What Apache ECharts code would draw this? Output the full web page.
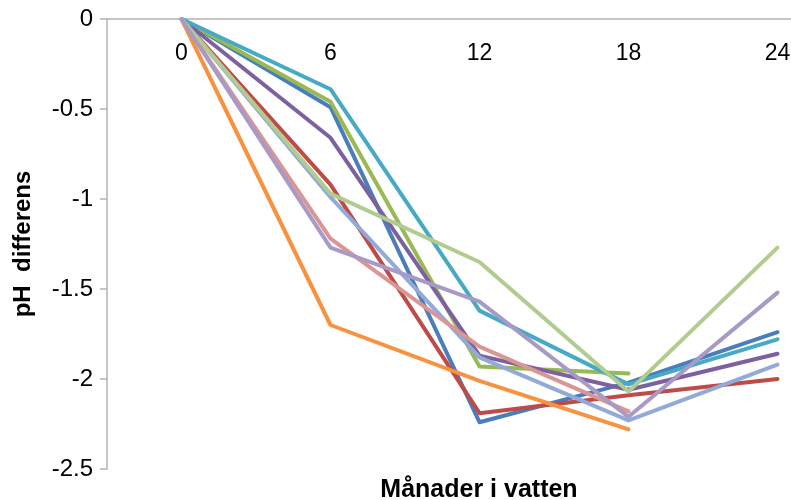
<!DOCTYPE html>
<html>
<head>
<meta charset="utf-8">
<style>
  html, body { margin: 0; padding: 0; background: #ffffff; }
  #chart { width: 791px; height: 500px; }
</style>
<script src="https://cdn.jsdelivr.net/npm/echarts@6/dist/echarts.min.js"></script>
</head>
<body>
<div id="chart"></div>
<script>
// Months in water
const months = ['0', '6', '12', '18', '24'];

// pH difference per sample series (null = not measured)
const seriesBlue        = [0, -0.49, -2.24, -2.02, -1.74];
const seriesRed         = [0, -0.92, -2.19, -2.09, -2.00];
const seriesGreen       = [0, -0.46, -1.93, -1.97, null];
const seriesPurple      = [0, -0.66, -1.87, -2.06, -1.86];
const seriesTeal        = [0, -0.39, -1.62, -2.03, -1.78];
const seriesOrange      = [0, -1.70, -2.01, -2.28, null];
const seriesLightBlue   = [0, -0.99, -1.88, -2.23, -1.92];
const seriesPink        = [0, -1.22, -1.82, -2.18, null];
const seriesLightGreen  = [0, -0.97, -1.35, -2.07, -1.27];
const seriesLightPurple = [0, -1.27, -1.57, -2.21, -1.52];

const yTicks = { min: -2.5, max: 0, step: 0.5 };

const lines = [
  { data: seriesBlue,        color: '#4A7EBB' },
  { data: seriesRed,         color: '#BE4B48' },
  { data: seriesGreen,       color: '#98B954' },
  { data: seriesPurple,      color: '#7D60A0' },
  { data: seriesTeal,        color: '#46AAC5' },
  { data: seriesOrange,      color: '#F69240' },
  { data: seriesLightBlue,   color: '#92AAD8' },
  { data: seriesPink,        color: '#D99694' },
  { data: seriesLightGreen,  color: '#B1CC8E' },
  { data: seriesLightPurple, color: '#A89AC6' }
];

const font = "'Liberation Sans', Arial, sans-serif";
const chart = echarts.init(document.getElementById('chart'), null, { renderer: 'canvas' });

chart.setOption({
  animation: false,
  backgroundColor: '#ffffff',
  // plot area runs past the right edge of the canvas
  grid: { left: 107, top: 19, width: 745, height: 450, outerBoundsMode: 'none', containLabel: false },
  xAxis: {
    type: 'category',
    data: months,
    position: 'top',
    boundaryGap: true,
    axisLine: { show: true, lineStyle: { color: '#B3B3B3', width: 1.5 } },
    axisTick: { show: false },
    axisLabel: {
      inside: true,
      margin: 23,
      color: '#000000',
      fontSize: 23,
      fontFamily: font
    },
    splitLine: { show: false }
  },
  yAxis: {
    type: 'value',
    min: yTicks.min,
    max: yTicks.max,
    interval: yTicks.step,
    name: 'pH  differens',
    nameLocation: 'middle',
    nameGap: 72,
    nameRotate: 90,
    nameTextStyle: { color: '#000000', fontSize: 24, fontWeight: 'bold', fontFamily: font },
    axisLine: { show: true, lineStyle: { color: '#B3B3B3', width: 1.5 } },
    axisTick: { show: true, inside: false, length: 7, lineStyle: { color: '#B3B3B3', width: 1.5 } },
    axisLabel: { color: '#000000', fontSize: 24, fontFamily: font, margin: 14 },
    splitLine: { show: false }
  },
  graphic: [{
    type: 'text',
    x: 479,
    y: 478,
    style: {
      text: 'Månader i vatten',
      fill: '#000000',
      align: 'center',
      verticalAlign: 'top',
      font: "bold 25px 'Liberation Sans', Arial, sans-serif"
    }
  }],
  series: lines.map(function (s) {
    return {
      type: 'line',
      data: s.data,
      symbol: 'none',
      clip: false,
      connectNulls: false,
      lineStyle: { color: s.color, width: 4, join: 'round', cap: 'round' },
      itemStyle: { color: s.color }
    };
  })
});
</script>
</body>
</html>
